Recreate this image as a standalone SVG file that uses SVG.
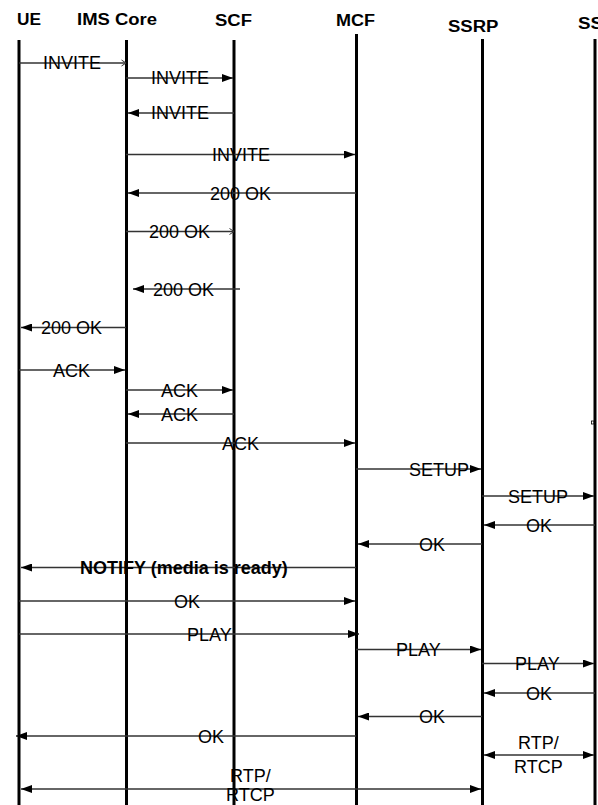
<svg xmlns="http://www.w3.org/2000/svg" width="598" height="805" viewBox="0 0 598 805">
<style>
.hdr{font-family:"Liberation Sans",Arial,sans-serif;font-weight:bold;font-size:16px;fill:#000}
.lbl{font-family:"Liberation Sans",Arial,sans-serif;font-size:18px;fill:#000}
.bold{font-weight:bold}
.life{stroke:#000;stroke-width:3}
.msg{stroke:#333;stroke-width:1.3;fill:none}
.f{marker-end:url(#fa)}
.o{marker-end:url(#oa)}
.s{marker-start:url(#fs)}
</style>
<defs>
<marker id="fa" markerUnits="userSpaceOnUse" markerWidth="12" markerHeight="8" refX="11" refY="4" orient="auto"><path d="M0,0 L11,4 L0,8 z" fill="#000"/></marker>
<marker id="fs" markerUnits="userSpaceOnUse" markerWidth="12" markerHeight="8" refX="0" refY="4" orient="auto"><path d="M11,0 L0,4 L11,8 z" fill="#000"/></marker>
<marker id="oa" markerUnits="userSpaceOnUse" markerWidth="7" markerHeight="8" refX="5.5" refY="4" orient="auto"><path d="M1,1 L5.5,4 L1,7" fill="none" stroke="#333" stroke-width="1"/></marker>
</defs>
<rect width="598" height="805" fill="#fff"/>
<g id="UE"><text class="hdr" x="17" y="25" textLength="24" lengthAdjust="spacingAndGlyphs">UE</text><line class="life" x1="19" y1="40" x2="19" y2="805"/></g>
<g id="IMSCore"><text class="hdr" x="77" y="25" textLength="80" lengthAdjust="spacingAndGlyphs">IMS Core</text><line class="life" x1="126.5" y1="40" x2="126.5" y2="805"/></g>
<g id="SCF"><text class="hdr" x="215" y="26" textLength="37" lengthAdjust="spacingAndGlyphs">SCF</text><line class="life" x1="234" y1="40" x2="234" y2="805"/></g>
<g id="MCF"><text class="hdr" x="336" y="26" textLength="39" lengthAdjust="spacingAndGlyphs">MCF</text><line class="life" x1="356.5" y1="34" x2="356.5" y2="805"/></g>
<g id="SSRP"><text class="hdr" x="448" y="31.5" textLength="50.5" lengthAdjust="spacingAndGlyphs">SSRP</text><line class="life" x1="482.5" y1="39" x2="482.5" y2="805"/></g>
<g id="SS"><text class="hdr" x="578" y="29" textLength="25" lengthAdjust="spacingAndGlyphs">SS</text><line class="life" x1="595" y1="39" x2="595" y2="805"/><rect x="591.5" y="421" width="2.5" height="3" fill="none" stroke="#000" stroke-width="0.8"/></g>
<g id="connectors">
<line class="msg o" x1="19" y1="63" x2="126" y2="63"/>
<line class="msg f" x1="126" y1="78" x2="233" y2="78"/>
<line class="msg f" x1="234" y1="113" x2="128" y2="113"/>
<line class="msg f" x1="126" y1="154.5" x2="355" y2="154.5"/>
<line class="msg f" x1="356" y1="193" x2="128" y2="193"/>
<line class="msg o" x1="126" y1="231.5" x2="234" y2="231.5"/>
<line class="msg f" x1="240" y1="289" x2="133" y2="289"/>
<line class="msg f" x1="126" y1="327.5" x2="21" y2="327.5"/>
<line class="msg f" x1="19" y1="370" x2="125" y2="370"/>
<line class="msg f" x1="126" y1="390" x2="233" y2="390"/>
<line class="msg f" x1="234" y1="414" x2="128" y2="414"/>
<line class="msg f" x1="126" y1="443" x2="355" y2="443"/>
<line class="msg f" x1="356" y1="469" x2="481" y2="469"/>
<line class="msg f" x1="482" y1="496" x2="594" y2="496"/>
<line class="msg f" x1="595" y1="525" x2="484" y2="525"/>
<line class="msg f" x1="482" y1="544" x2="358" y2="544"/>
<line class="msg f" x1="356" y1="567.5" x2="21" y2="567.5"/>
<line class="msg f" x1="19" y1="601" x2="355" y2="601"/>
<line class="msg f" x1="19" y1="634" x2="359" y2="634"/>
<line class="msg f" x1="356" y1="649.5" x2="481" y2="649.5"/>
<line class="msg f" x1="482" y1="663.5" x2="594" y2="663.5"/>
<line class="msg f" x1="595" y1="693" x2="484" y2="693"/>
<line class="msg f" x1="482" y1="716.5" x2="358" y2="716.5"/>
<line class="msg f" x1="356" y1="736" x2="16" y2="736"/>
<line class="msg f s" x1="484" y1="755" x2="594" y2="755"/>
<line class="msg f s" x1="21" y1="789" x2="481" y2="789"/>
</g>
<g id="labels">
<text class="lbl" x="43" y="69">INVITE</text>
<text class="lbl" x="151" y="84">INVITE</text>
<text class="lbl" x="151" y="119">INVITE</text>
<text class="lbl" x="212" y="161">INVITE</text>
<text class="lbl" x="210" y="199.5">200 OK</text>
<text class="lbl" x="149" y="238">200 OK</text>
<text class="lbl" x="153" y="295.5">200 OK</text>
<text class="lbl" x="41" y="334">200 OK</text>
<text class="lbl" x="53" y="376.5">ACK</text>
<text class="lbl" x="161" y="396.5">ACK</text>
<text class="lbl" x="161" y="420.5">ACK</text>
<text class="lbl" x="222" y="449.5">ACK</text>
<text class="lbl" x="409" y="475.5">SETUP</text>
<text class="lbl" x="508" y="502.5">SETUP</text>
<text class="lbl" x="526" y="531.5">OK</text>
<text class="lbl" x="419" y="550.5">OK</text>
<text class="lbl bold" x="80" y="574">NOTIFY (media is ready)</text>
<text class="lbl" x="174" y="607.5">OK</text>
<text class="lbl" x="187" y="640.5">PLAY</text>
<text class="lbl" x="396" y="656">PLAY</text>
<text class="lbl" x="515" y="670">PLAY</text>
<text class="lbl" x="526" y="699.5">OK</text>
<text class="lbl" x="419" y="723">OK</text>
<text class="lbl" x="198" y="742.5">OK</text>
<text class="lbl"><tspan x="518" y="749">RTP/</tspan><tspan x="514" y="772.5">RTCP</tspan></text>
<text class="lbl"><tspan x="230" y="781.5">RTP/</tspan><tspan x="226" y="800.5">RTCP</tspan></text>
</g>
</svg>
